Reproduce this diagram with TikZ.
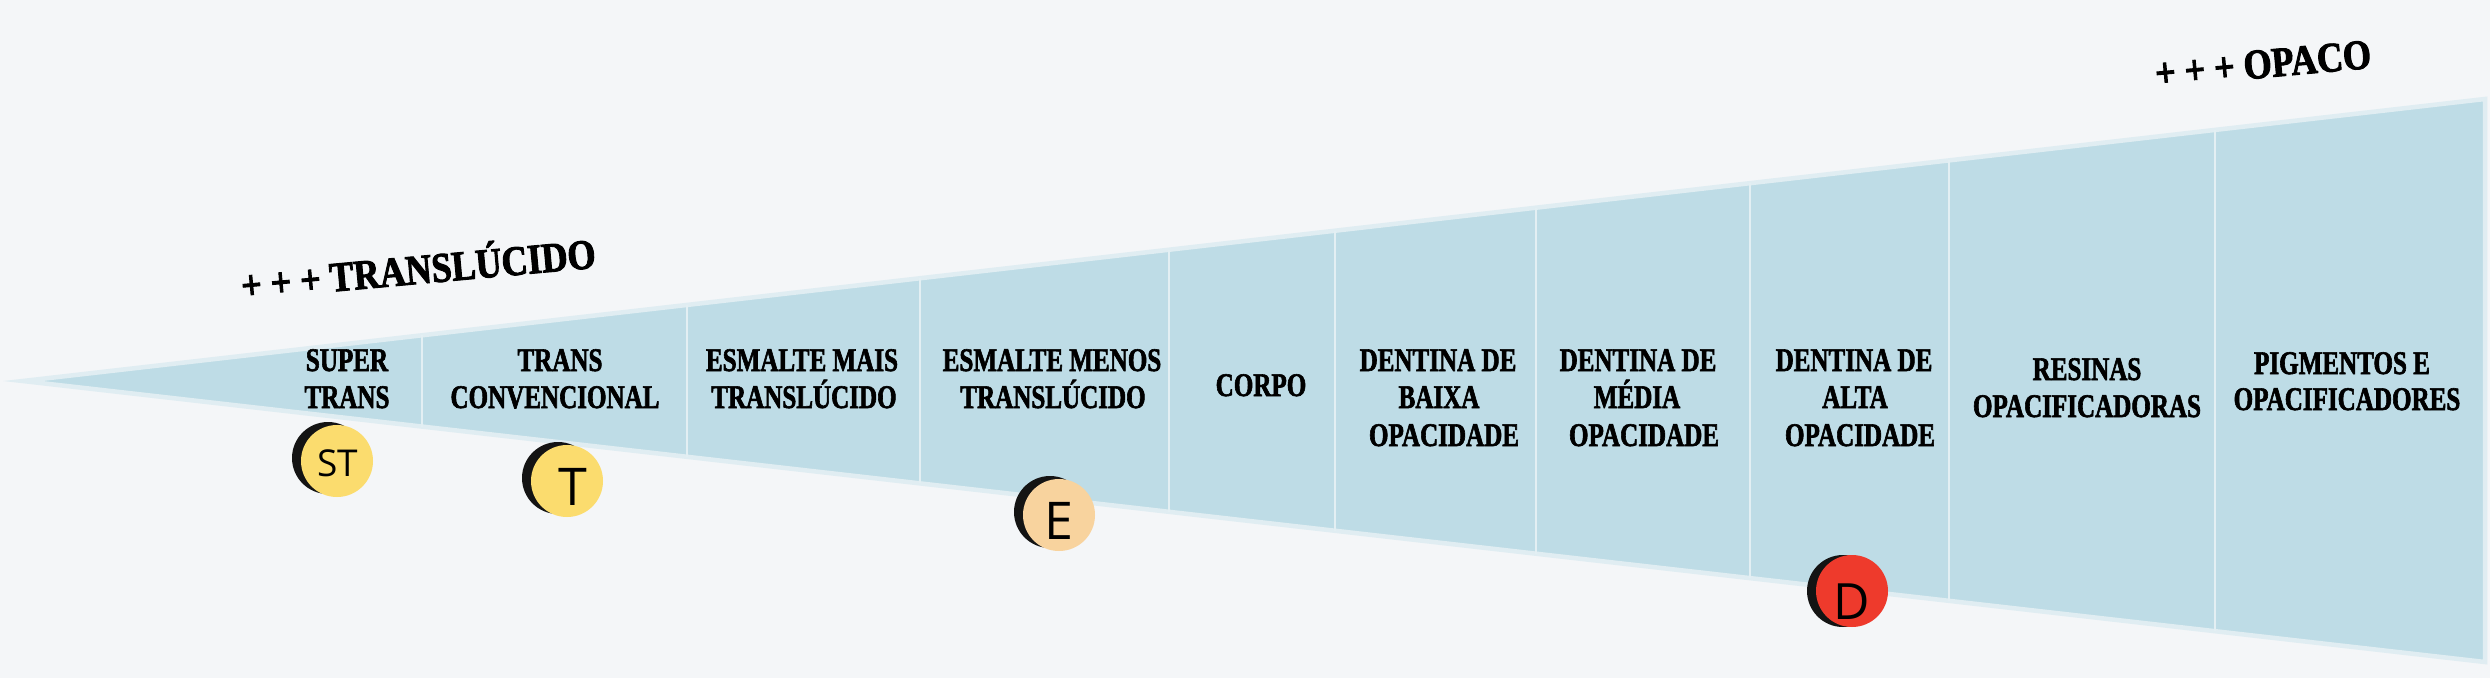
\documentclass[tikz,border=0pt]{standalone}
\usepackage{fontspec}
\usetikzlibrary{calc}
\setmainfont{Liberation Serif}
\newfontfamily\lblfont[FakeStretch=0.76,FakeBold=1.8]{Liberation Serif Bold}
\newfontfamily\headfont[FakeStretch=0.86,FakeBold=2.2]{Liberation Serif Bold}
\newfontfamily\mutedfont{Open Sans}
\definecolor{bgc}{HTML}{F4F6F8}
\definecolor{wedge}{HTML}{BEDCE6}
\definecolor{wedgeedge}{HTML}{E0EDF2}
\definecolor{divc}{HTML}{E3EFF3}
\definecolor{yel}{HTML}{FBDC6E}
\definecolor{pea}{HTML}{F8D39E}
\definecolor{redc}{HTML}{EE3A2C}
\definecolor{blk}{HTML}{141414}
\tikzset{x=1pt,y=-1pt,
 lbl/.style={inner sep=0pt,anchor=base,font=\lblfont\fontsize{33}{33}\selectfont,text=black},
 headlbl/.style={inner sep=0pt,anchor=center,font=\headfont\fontsize{42}{42}\selectfont,text=black},
 disc/.style={circle,inner sep=0pt,minimum size=72pt},
 lett/.style={inner sep=0pt,anchor=base,text=black},
 divider/.style={draw=divc,line width=2.4pt}}
\begin{document}
\begin{tikzpicture}
\useasboundingbox[fill=bgc] (0,0) rectangle (2490,678);
\coordinate (apex) at (23,381);
\coordinate (tr) at (2485,99);
\coordinate (br) at (2485,662);
\fill[wedge,draw=wedgeedge,line width=4.5pt,line join=miter] (apex) -- (tr) -- (br) -- cycle;
% dividers
\foreach \n/\xx in {a/422,b/687,c/920,d/1169,e/1335,f/1536,g/1750,h/1949,i/2215}{
  \draw[divider] ($(apex)!{(\xx-23)/2462}!(tr)$) -- ($(apex)!{(\xx-23)/2462}!(br)$);
}
% labels
\node[lbl] (l1a) at (347,371) {SUPER};
\node[lbl] (l1b) at (347,408) {TRANS};
\node[lbl] (l2a) at (560,371) {TRANS};
\node[lbl] (l2b) at (555,408) {CONVENCIONAL};
\node[lbl] (l3a) at (802,371) {ESMALTE MAIS};
\node[lbl] (l3b) at (804,408) {TRANSLÚCIDO};
\node[lbl] (l4a) at (1052,371) {ESMALTE MENOS};
\node[lbl] (l4b) at (1053,408) {TRANSLÚCIDO};
\node[lbl] (l5) at (1261,396) {CORPO};
\node[lbl] (l6a) at (1438,371) {DENTINA DE};
\node[lbl] (l6b) at (1439,408) {BAIXA};
\node[lbl] (l6c) at (1444,446) {OPACIDADE};
\node[lbl] (l7a) at (1638,371) {DENTINA DE};
\node[lbl] (l7b) at (1637,408) {MÉDIA};
\node[lbl] (l7c) at (1644,446) {OPACIDADE};
\node[lbl] (l8a) at (1854,371) {DENTINA DE};
\node[lbl] (l8b) at (1855,408) {ALTA};
\node[lbl] (l8c) at (1860,446) {OPACIDADE};
\node[lbl] (l9a) at (2087,380) {RESINAS};
\node[lbl] (l9b) at (2087,417) {OPACIFICADORAS};
\node[lbl] (l10a) at (2342,374) {PIGMENTOS E};
\node[lbl] (l10b) at (2347,410) {OPACIFICADORES};
% headings
\node[headlbl,rotate=5.2] (h1) at (418,266) {+ + + TRANSLÚCIDO};
\node[headlbl,rotate=5.2] (h2) at (2263,64) {+ + + OPACO};
% discs
\node[disc,fill=blk] (st0) at (328,458) {};
\node[disc,fill=yel] (st) at (337,461) {};
\node[lett,font=\mutedfont\fontsize{37}{37}\selectfont] (stt) at (338,476) {ST};
\node[disc,fill=blk] (t0) at (558,478) {};
\node[disc,fill=yel] (t) at (567,481) {};
\node[lett,font=\mutedfont\fontsize{52}{52}\selectfont] (tt) at (573,505) {T};
\node[disc,fill=blk] (e0) at (1050,512) {};
\node[disc,fill=pea] (e) at (1059,515) {};
\node[lett,font=\mutedfont\fontsize{52}{52}\selectfont] (et) at (1059,539) {E};
\node[disc,fill=blk] (d0) at (1843,591) {};
\node[disc,fill=redc] (d) at (1852,591) {};
\node[lett,font=\mutedfont\fontsize{50}{50}\selectfont] (dt) at (1852,619) {D};
\end{tikzpicture}
\end{document}
